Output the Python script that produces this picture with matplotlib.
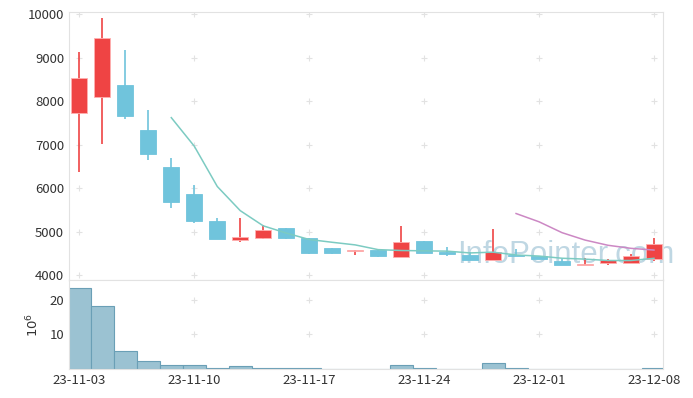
import matplotlib
matplotlib.use("Agg")
import matplotlib.pyplot as plt
import numpy as np

plt.rcParams['font.family'] = ['Noto Sans CJK KR', 'DejaVu Sans']

# trading days, 23-11-03 .. 23-12-08
dates = ["23-11-03", "23-11-06", "23-11-07", "23-11-08", "23-11-09", "23-11-10",
         "23-11-13", "23-11-14", "23-11-15", "23-11-16", "23-11-17",
         "23-11-20", "23-11-21", "23-11-22", "23-11-23", "23-11-24",
         "23-11-27", "23-11-28", "23-11-29", "23-11-30", "23-12-01",
         "23-12-04", "23-12-05", "23-12-06", "23-12-07", "23-12-08"]
opens = [7730, 8100, 8370, 7330, 6480, 5860, 5240, 4805, 4860, 5080, 4850,
         4620, 4560, 4580, 4420, 4780, 4535, 4460, 4350, 4460, 4445,
         4330, 4240, 4290, 4290, 4370]
highs = [9140, 9910, 9170, 7790, 6700, 6085, 5325, 5325, 5160, 5095, 4865,
         4620, 4580, 4580, 5140, 4780, 4650, 4535, 5075, 4600, 4445,
         4370, 4400, 4385, 4480, 4865]
lows = [6380, 7010, 7600, 6650, 5545, 5200, 4830, 4775, 4835, 4835, 4490,
        4490, 4470, 4420, 4420, 4510, 4450, 4360, 4350, 4440, 4385,
        4235, 4235, 4245, 4290, 4330]
closes = [8530, 9460, 7660, 6780, 5690, 5250, 4830, 4880, 5035, 4860, 4510,
          4510, 4580, 4445, 4765, 4510, 4490, 4360, 4535, 4440, 4385,
          4240, 4260, 4350, 4440, 4710]
# volume in millions
volumes = [23.4, 18.3, 5.2, 2.3, 1.1, 1.1, 0.3, 0.8, 0.3, 0.3, 0.3,
           0.05, 0.05, 0.05, 1.1, 0.2, 0.05, 0.05, 1.7, 0.2, 0.05,
           0.05, 0.05, 0.05, 0.05, 0.2]
# moving averages as drawn (5 day from 11-09, 20 day from 11-30)
ma5_start = 4
ma5 = [7624, 6968, 6042, 5486, 5137, 4971, 4823, 4759, 4699, 4590, 4570,
       4562, 4555, 4514, 4532, 4467, 4442, 4392, 4372, 4340, 4340, 4390]
ma20_start = 19
ma20 = [5420, 5230, 4980, 4810, 4690, 4620, 4580]

x = np.arange(len(dates))
o = np.array(opens); c = np.array(closes)
up = c >= o
red = "#ef4444"
blue = "#70c4dc"

fig = plt.figure(figsize=(6.93, 3.98), dpi=100)
ax = fig.add_axes([0.0996, 0.2965, 0.857, 0.6726])
axv = fig.add_axes([0.0996, 0.0729, 0.857, 0.2236], sharex=ax)

gridc = "#e2e2e2"
for a in (ax, axv):
    for s in a.spines.values():
        s.set_color(gridc)
    a.tick_params(length=0, colors="#333333", labelsize=9.5)

# grid "+" markers
tick_idx = [0, 5, 10, 15, 20, 25]
yt = [4000, 5000, 6000, 7000, 8000, 9000, 10000]
gx, gy = np.meshgrid(tick_idx, yt)
ax.scatter(gx.ravel(), gy.ravel(), marker="+", s=18, color=gridc, lw=0.8, zorder=0)
gx, gy = np.meshgrid(tick_idx, [10, 20])
axv.scatter(gx.ravel(), gy.ravel(), marker="+", s=18, color=gridc, lw=0.8, zorder=0)

ax.text(0.837, 0.095, "InfoPointer.com", transform=ax.transAxes, ha="center", va="center",
        fontsize=22.5, color="#b4d0de", alpha=0.85, zorder=1,
        family=["Liberation Sans", "DejaVu Sans"])

cols = [red if u else blue for u in up]
ax.vlines(x, lows, highs, colors=cols, lw=1.2, zorder=2)
body_b = np.minimum(o, c)
body_h = np.maximum(np.abs(c - o), 30)
ax.bar(x, body_h, bottom=body_b, width=0.7, color=cols,
       edgecolor=["#ffb0b0" if u else blue for u in up], lw=0.6, zorder=3)

ax.plot(np.arange(ma5_start, ma5_start + len(ma5)), ma5, color="#7ccbc2", lw=1.1, zorder=4)
ax.plot(np.arange(ma20_start, ma20_start + len(ma20)), ma20, color="#cc88c4", lw=1.1, zorder=4)

ax.set_ylim(3892, 10046)
ax.set_yticks(yt)
ax.set_xlim(-0.45, 25.39)
plt.setp(ax.get_xticklabels(), visible=False)

axv.bar(x, volumes, width=1.0, color="#9bc2d2", edgecolor="#6a9fb6", lw=0.8, zorder=2)
axv.set_ylim(0, 25.8)
axv.set_yticks([10, 20])
axv.set_xticks(tick_idx)
axv.set_xticklabels([dates[i] for i in tick_idx])
axv.set_ylabel("$10^6$", color="#333333", fontsize=9.5, labelpad=6)

fig.savefig("out.png", dpi=100)
